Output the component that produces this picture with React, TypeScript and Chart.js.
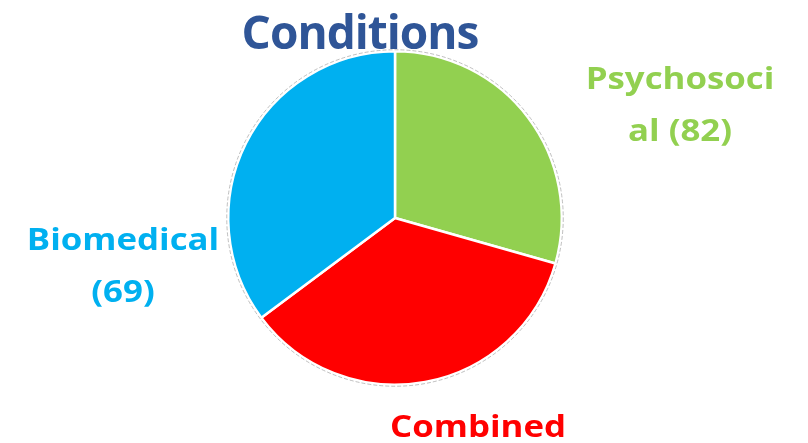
import React, { useEffect, useRef } from "react";
import { Chart, registerables } from "chart.js";

Chart.register(...registerables);

// ---- data ----
const TITLE = "Conditions";
const categories = ["Psychosocial", "Combined", "Biomedical"];
// slice shares as drawn in the reference pie (percent)
const sliceShares = [29.4, 35.4, 35.2];
// label texts as printed in the reference
const labelLines = [["Psychosoci", "al (82)"], ["Combined"], ["Biomedical", "(69)"]];
const colors = ["#92D050", "#FF0000", "#00B0F0"];
const titleColor = "#2F5597";

const FONT = "'Open Sans', Lato, sans-serif";

export default function App() {
  const ref = useRef<HTMLCanvasElement | null>(null);

  useEffect(() => {
    if (!ref.current) return;

    const labelPlugin = {
      id: "customText",
      afterDatasetsDraw(chart: any) {
        const ctx = chart.ctx as any;
        const arc = chart.getDatasetMeta(0).data[0] as any;
        const cx = arc.x;
        const cy = arc.y;
        const r = arc.outerRadius;
        ctx.save();
        // faint outer outline
        ctx.beginPath();
        ctx.setLineDash([4, 2]);
        ctx.strokeStyle = "rgba(150,150,150,0.6)";
        ctx.lineWidth = 1;
        ctx.arc(cx, cy, r + 1.5, 0, Math.PI * 2);
        ctx.stroke();
        ctx.setLineDash([]);

        // title
        ctx.textAlign = "center";
        ctx.textBaseline = "alphabetic";
        ctx.fillStyle = titleColor;
        ctx.font = `bold 46px ${FONT}`;
        ctx.letterSpacing = "-1px";
        ctx.fillText(TITLE, cx - 35, cy - 169);
        ctx.letterSpacing = "0px";

        // labels (positions relative to pie centre), slightly widened glyphs
        const anchors = [
          { dx: 285, dy: -129 },
          { dx: 83, dy: 219 },
          { dx: -272, dy: 32 },
        ];
        const sx = 1.16;
        ctx.font = `bold 30px ${FONT}`;
        labelLines.forEach((lines, i) => {
          ctx.fillStyle = colors[i];
          lines.forEach((ln, j) => {
            const x = cx + anchors[i].dx;
            const y = cy + anchors[i].dy + j * 52;
            ctx.save();
            ctx.translate(x, y);
            ctx.scale(sx, 1);
            ctx.fillText(ln, 0, 0);
            ctx.restore();
          });
        });
        ctx.restore();
      },
    };

    const chart = new Chart(ref.current, {
      type: "pie",
      data: {
        labels: categories,
        datasets: [
          {
            data: sliceShares,
            backgroundColor: colors,
            borderColor: "#ffffff",
            borderWidth: 2.5,
          },
        ],
      },
      options: {
        responsive: false,
        animation: false,
        layout: { padding: { top: 50, bottom: 57, left: 227, right: 245 } },
        plugins: {
          legend: { display: false },
          tooltip: { enabled: false },
          title: { display: false },
        },
      },
      plugins: [labelPlugin],
    });
    return () => chart.destroy();
  }, []);

  return (
    <div style={{ position: "absolute", left: 0, top: 0, width: 808, height: 443, background: "#fff" }}>
      <canvas ref={ref} width={808} height={443} />
    </div>
  );
}
